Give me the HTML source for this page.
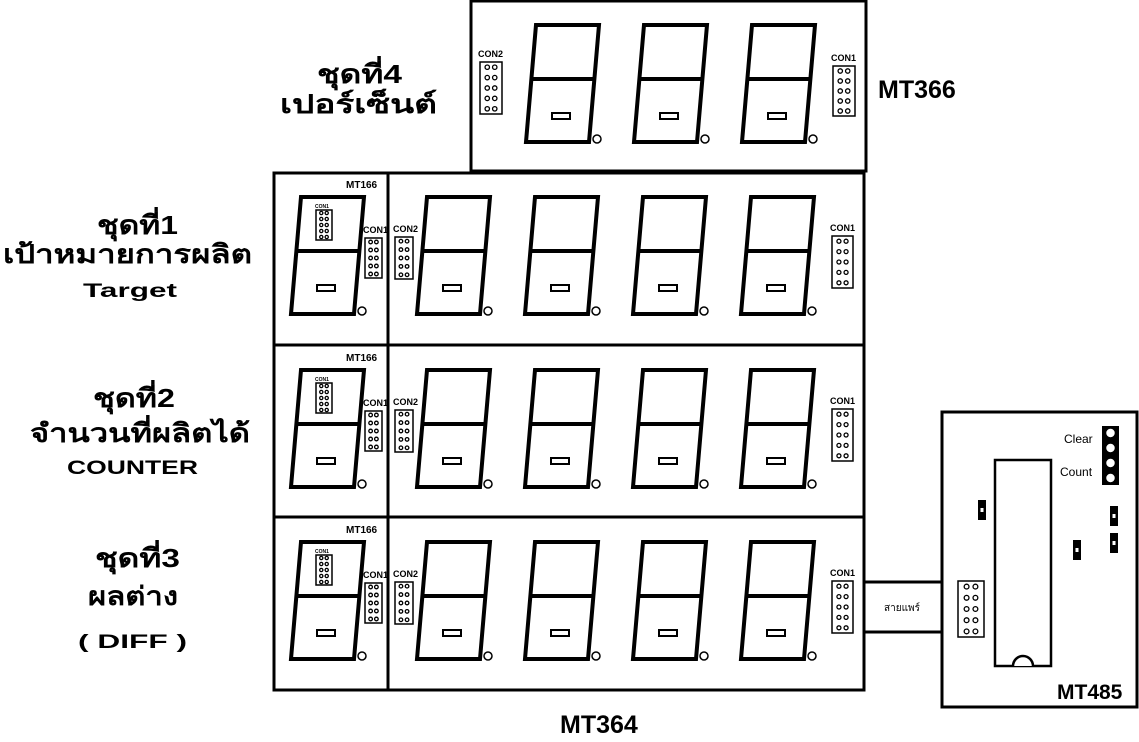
<!DOCTYPE html>
<html><head><meta charset="utf-8">
<style>
html,body{margin:0;padding:0;background:#fff;}
svg{display:block;}
text{font-family:"Liberation Sans","DejaVu Sans",sans-serif;font-weight:bold;fill:#000;}
.th{font-size:26px;}
.en{font-size:19px;}
</style></head>
<body>
<svg id="s" width="1139" height="742" viewBox="0 0 1139 742" xmlns="http://www.w3.org/2000/svg">
<g fill="none" stroke="#000" stroke-width="3">
<rect x="471" y="1" width="395" height="170"/>
<rect x="274" y="173" width="590" height="517"/>
<line x1="274" y1="345" x2="864" y2="345"/>
<line x1="274" y1="517" x2="864" y2="517"/>
<line x1="388" y1="173" x2="388" y2="690"/>
<rect x="942" y="412" width="195" height="295"/>
<line x1="864" y1="582" x2="942" y2="582"/>
<line x1="864" y1="632" x2="942" y2="632"/>
<rect x="995" y="460" width="56" height="206" stroke-width="2.5"/>
</g>
<path d="M1013 666 A10 10 0 0 1 1033 666" fill="#fff" stroke="#000" stroke-width="2.5"/>
<g id="dyn"></g>
<text class="th" x="317" y="83" textLength="85" lengthAdjust="spacingAndGlyphs">ชุดที่4</text>
<text class="th" x="280" y="113" textLength="157" lengthAdjust="spacingAndGlyphs">เปอร์เซ็นต์</text>
<text class="th" x="97" y="234" textLength="81" lengthAdjust="spacingAndGlyphs">ชุดที่1</text>
<text class="th" x="3" y="263" textLength="249" lengthAdjust="spacingAndGlyphs">เป้าหมายการผลิต</text>
<text class="en" x="83" y="297" textLength="94" lengthAdjust="spacingAndGlyphs">Target</text>
<text class="th" x="93" y="407" textLength="82" lengthAdjust="spacingAndGlyphs">ชุดที่2</text>
<text class="th" x="30" y="442" textLength="220" lengthAdjust="spacingAndGlyphs">จำนวนที่ผลิตได้</text>
<text class="en" x="67" y="474" textLength="131" lengthAdjust="spacingAndGlyphs">COUNTER</text>
<text class="th" x="95" y="567" textLength="85" lengthAdjust="spacingAndGlyphs">ชุดที่3</text>
<text class="th" x="88" y="605" textLength="90" lengthAdjust="spacingAndGlyphs">ผลต่าง</text>
<text class="en" x="78" y="648" textLength="109" lengthAdjust="spacingAndGlyphs">(  DIFF  )</text>
<text x="878" y="98" style="font-size:25px">MT366</text>
<text x="560" y="733" style="font-size:25px">MT364</text>
<text x="1057" y="699" style="font-size:21px">MT485</text>
<text x="1064" y="443" style="font-size:12px;font-weight:normal">Clear</text>
<text x="1060" y="476" style="font-size:12px;font-weight:normal">Count</text>
<text x="884" y="611" style="font-size:10px;font-weight:normal">สายแพร์</text>
</svg>
<script>
var g=document.getElementById('dyn'),h='';
function digit(x,y,dp){
 h+='<path d="M'+x+' '+y+' L'+(x+63)+' '+y+' L'+(x+53)+' '+(y+117)+' L'+(x-10)+' '+(y+117)+' Z" fill="none" stroke="#000" stroke-width="4"/>';
 h+='<line x1="'+(x-5)+'" y1="'+(y+54)+'" x2="'+(x+58)+'" y2="'+(y+54)+'" stroke="#000" stroke-width="4"/>';
 h+='<rect x="'+(x+16)+'" y="'+(y+88)+'" width="18" height="6" fill="none" stroke="#000" stroke-width="2"/>';
 if(dp) h+='<circle cx="'+(x+61)+'" cy="'+(y+114)+'" r="4" fill="none" stroke="#000" stroke-width="1.5"/>';
}
function con(x,y,w,hh,r,lbl){
 h+='<rect x="'+x+'" y="'+y+'" width="'+w+'" height="'+hh+'" fill="#fff" stroke="#000" stroke-width="1.5"/>';
 var dy=hh/5;
 for(var i=0;i<5;i++)for(var j=0;j<2;j++)
  h+='<circle cx="'+(x+w*0.33+j*w*0.34)+'" cy="'+(y+dy*(i+0.5))+'" r="'+r+'" fill="none" stroke="#000" stroke-width="1.3"/>';
 if(lbl) h+='<text x="'+(x-2)+'" y="'+(y-5)+'" style="font-size:9px">'+lbl+'</text>';
}
for(var k=0;k<3;k++) digit(536+108*k,25,1);
con(480,62,22,52,2.2,'CON2');
con(833,66,22,50,2.2,'CON1');
[172,345,517].forEach(function(y0){
 for(var k=0;k<4;k++) digit(427+108*k,y0+25,1);
 digit(301,y0+25,1);
 con(316,y0+38,16,30,1.6,'');
 h+='<text x="315" y="'+(y0+36)+'" style="font-size:5px">CON1</text>';
 h+='<text x="346" y="'+(y0+16)+'" style="font-size:10px">MT166</text>';
 con(365,y0+66,17,40,1.8,'CON1');
 con(395,y0+65,18,42,1.8,'CON2');
 con(832,y0+64,21,52,2,'CON1');
});
con(958,581,26,56,2.4,'');
h+='<rect x="1102" y="426" width="17" height="59" fill="#000"/>';
for(var i=0;i<4;i++) h+='<circle cx="1110.5" cy="'+(433+i*15)+'" r="5" fill="#fff" stroke="#000" stroke-width="1.5"/>';
[[978,500],[1110,506],[1110,533],[1073,540]].forEach(function(p){
 h+='<rect x="'+p[0]+'" y="'+p[1]+'" width="8" height="20" fill="#000"/><rect x="'+(p[0]+2.5)+'" y="'+(p[1]+8)+'" width="3" height="4" fill="#fff"/>';
});
g.innerHTML=h;
</script>
</body></html>
